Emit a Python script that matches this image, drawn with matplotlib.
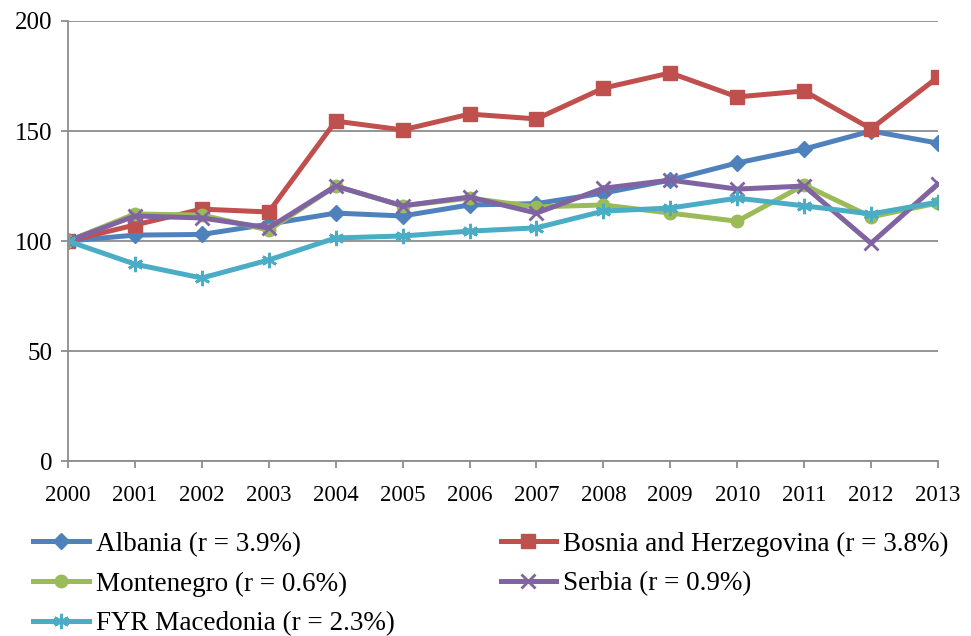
import matplotlib.pyplot as plt
import numpy as np

plt.rcParams['font.family'] = ['Liberation Serif', 'DejaVu Serif']

years = [str(y) for y in range(2000, 2014)]
albania = [100, 102.7, 103, 107.7, 112.7, 111.4, 116.4, 117, 121.8, 127.7, 135.5, 141.8, 150, 144.5]
bosnia = [100, 107.3, 114.5, 113.2, 154.5, 150.5, 157.7, 155.5, 169.5, 176.4, 165.5, 168.2, 151, 174.5]
montenegro = [100, 112.3, 111.8, 105, 125, 116, 119.5, 115.5, 116.4, 112.7, 109, 125.5, 111, 117.3]
serbia = [100, 111.4, 110.5, 106, 125, 116, 120, 112.7, 124, 127.7, 123.6, 125, 99, 126]
macedonia = [100, 89.5, 83.2, 91.4, 101.4, 102.3, 104.5, 106, 113.6, 115, 119.5, 116, 112.3, 117.7]

labels = ['Albania (r = 3.9%)', 'Bosnia and Herzegovina (r = 3.8%)',
          'Montenegro (r = 0.6%)', 'Serbia (r = 0.9%)', 'FYR Macedonia (r = 2.3%)']

fig = plt.figure(figsize=(9.71, 6.36), dpi=100)
ax = fig.add_axes([0.070, 0.275, 0.896, 0.692])

x = np.arange(len(years))
lw = 3.6
h_alb, = ax.plot(x, albania, color='#4F81BD', lw=lw, marker='D', ms=8, label=labels[0])
h_bos, = ax.plot(x, bosnia, color='#C0504D', lw=lw, marker='s', ms=10, label=labels[1])
h_mon, = ax.plot(x, montenegro, color='#9BBB59', lw=lw, marker='o', ms=9, label=labels[2])
h_ser, = ax.plot(x, serbia, color='#8064A2', lw=lw, marker='x', ms=10, mew=2, label=labels[3])
h_mac, = ax.plot(x, macedonia, color='#4BACC6', lw=lw, marker=(6, 2, 0), ms=11, mew=2, label=labels[4])

ax.set_xlim(0, len(years) - 1)
ax.set_ylim(0, 200)
ax.set_yticks([0, 50, 100, 150, 200])
ax.set_xticks(x)
ax.set_xticklabels(years)
ax.grid(axis='y', color='#8c8c8c', lw=1.3)
ax.set_axisbelow(True)
for s in ['top', 'right']:
    ax.spines[s].set_visible(False)
for s in ['left', 'bottom']:
    ax.spines[s].set_color('#8c8c8c')
    ax.spines[s].set_linewidth(1.3)
ax.tick_params(axis='both', color='#8c8c8c', length=5, width=1.3)
ax.tick_params(axis='y', labelsize=18, pad=6)
ax.tick_params(axis='x', labelsize=16.5, pad=12)

handles = [h_alb, h_mon, h_mac, h_bos, h_ser]
ax.legend(handles=handles, labels=[h.get_label() for h in handles], ncol=2, frameon=False,
          loc='upper left', bbox_to_anchor=(-0.040, -0.160), fontsize=19.5,
          handlelength=2.05, handletextpad=0.27, columnspacing=3.9, labelspacing=0.55,
          borderaxespad=0, borderpad=0)

plt.savefig('out.png', dpi=100)
